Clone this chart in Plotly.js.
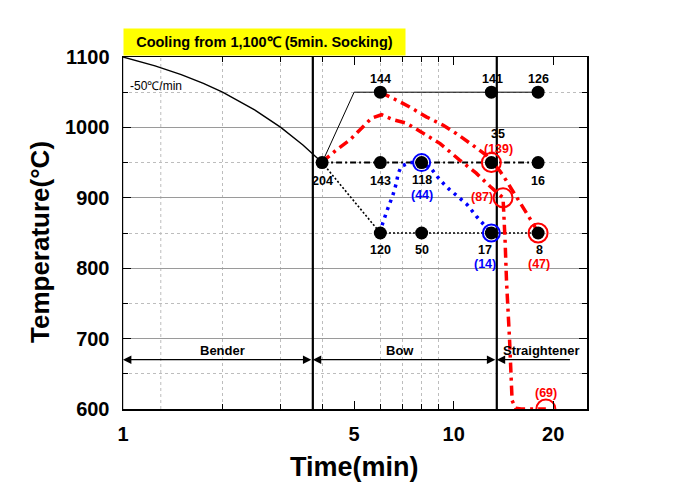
<!DOCTYPE html>
<html>
<head>
<meta charset="utf-8">
<script src="https://cdn.plot.ly/plotly-3.0.1.min.js"></script>
<style>html,body{margin:0;padding:0;background:#fff;}#chart{width:684px;height:494px;}</style>
</head>
<body>
<div id="chart"></div>
<script>
// ---------- data ----------
const coolT = [1, 1.25, 1.5, 1.75, 2, 2.5, 3, 3.5, 4];
const coolTemp = [1100, 1087.5, 1075, 1062.5, 1050, 1025, 1000, 975, 950];
const boundaryT = [3.75, 13.5];
const tempRange = [600, 1100];

const upperPathT = [4, 5, 6, 13, 18];
const upperPathTemp = [950, 1050, 1050, 1050, 1050];
const midPathT = [4, 6, 8, 13, 18];
const midPathTemp = [950, 950, 950, 950, 950];
const lowPathT = [4, 6, 8, 13, 18];
const lowPathTemp = [950, 850, 850, 850, 850];

const blueT = [6, 6.1, 6.3, 6.55, 6.7, 6.8, 6.95, 7.4, 8, 8.6, 9.1, 9.7, 10.4, 11, 11.7, 12.3, 13];
const blueTemp = [850, 864, 883, 904, 920, 935, 945, 950, 950, 940, 925, 912, 900, 890, 874, 862, 850];

const redUpperT = [6, 6.26, 6.7, 7.36, 8.26, 9.3, 10.2, 11.4, 12.5, 13, 13.8, 14.4, 15.5, 16.2, 16.9, 17.5, 18];
const redUpperTemp = [1050, 1046, 1039, 1029, 1015, 1003, 991, 975, 961, 952, 938, 925, 901, 886, 873, 861, 850];

const redLowerT = [4, 4.12, 4.42, 4.85, 5.32, 5.64, 6.05, 6.55, 7.2, 8.1, 9.1, 10.4, 11.7, 12.9, 14.1, 14.3, 14.45, 14.75, 14.9, 15.02, 15.4, 16, 19];
const redLowerTemp = [950, 956, 968, 982, 1001, 1013, 1018, 1011, 1006, 991, 977, 954, 935, 916, 900, 840, 780, 700, 650, 612, 601, 600, 600];

const dotT    = [4, 6, 6, 6, 8, 8, 13, 13, 13, 18, 18, 18];
const dotTemp = [950, 1050, 950, 850, 950, 850, 1050, 950, 850, 1050, 950, 850];
const dotCount = ['204', '144', '143', '120', '118', '50', '141', '35', '17', '126', '16', '8'];

const blueRingT = [8, 13];
const blueRingTemp = [950, 850];
const blueRingCount = ['(44)', '(14)'];

const redRingT = [13, 14.1, 18, 19];
const redRingTemp = [950, 900, 850, 600];
const redRingCount = ['(139)', '(87)', '(47)', '(69)'];

const xTickVals = [1, 5, 10, 20];
const xTickText = ['1', '5', '10', '20'];
const yTickVals = [600, 700, 800, 900, 1000, 1100];

const zoneNames = ['Bender', 'Bow', 'Straightener'];
const zoneLabelT = [2.0, 6.87, 18.4];
const zoneStartT = [1, 3.75, 13.5];
const zoneEndT = [3.75, 13.5, 22.7];

// ---------- drawing ----------
const FONT = 'Arial, "Liberation Sans", sans-serif';
const L = Math.log10;

const traces = [];
traces.push({x: coolT, y: coolTemp, mode: 'lines', line: {color: '#000', width: 1.4}});
boundaryT.forEach(t => traces.push({x: [t, t], y: tempRange, mode: 'lines', line: {color: '#000', width: 2.2}}));
traces.push({x: upperPathT, y: upperPathTemp, mode: 'lines', line: {color: '#000', width: 1}});
traces.push({x: midPathT, y: midPathTemp, mode: 'lines', line: {color: '#000', width: 2, dash: '6px,3px,2px,3px'}});
traces.push({x: lowPathT, y: lowPathTemp, mode: 'lines', line: {color: '#000', width: 1.6, dash: '2px,2px'}});
traces.push({x: blueT, y: blueTemp, mode: 'lines', line: {color: '#0000ff', width: 3.5, dash: '3px,5px'}});
traces.push({x: redUpperT, y: redUpperTemp, mode: 'lines', line: {color: '#ff0000', width: 3.5, dash: '10px,5px,3px,5px'}});
traces.push({x: redLowerT, y: redLowerTemp, mode: 'lines', line: {color: '#ff0000', width: 3.5, dash: '10px,5px,3px,5px'}});
traces.push({x: dotT, y: dotTemp, mode: 'markers', marker: {color: '#000', size: 13}});
traces.push({x: blueRingT, y: blueRingTemp, mode: 'markers', marker: {color: '#0000ff', size: 17, symbol: 'circle-open', line: {width: 2}}});
traces.push({x: redRingT, y: redRingTemp, mode: 'markers', marker: {color: '#ff0000', size: 19, symbol: 'circle-open', line: {width: 2}}});
traces.forEach(t => { t.type = 'scatter'; t.showlegend = false; t.hoverinfo = 'skip'; });

const ann = [];
const dotShift = [[0, -18], [0, 13], [0, -18], [0, -17], [0, -17], [0, -17], [1, 13], [7, 29], [-6, -17], [0, 13], [0, -18], [1, -17]];
dotCount.forEach((txt, i) => ann.push({
  x: L(dotT[i]), y: dotTemp[i], xref: 'x', yref: 'y', text: txt, showarrow: false,
  xshift: dotShift[i][0], yshift: dotShift[i][1],
  font: {family: FONT, size: 12.5, color: '#000', weight: 'bold'}
}));
const blueShift = [[0, -32], [-6, -31]];
blueRingCount.forEach((txt, i) => ann.push({
  x: L(blueRingT[i]), y: blueRingTemp[i], xref: 'x', yref: 'y', text: txt, showarrow: false,
  xshift: blueShift[i][0], yshift: blueShift[i][1],
  font: {family: FONT, size: 12.5, color: '#0000ff', weight: 'bold'}
}));
const redShift = [[7, 14], [-21, 1], [1, -31], [0, 16]];
redRingCount.forEach((txt, i) => ann.push({
  x: L(redRingT[i]), y: redRingTemp[i], xref: 'x', yref: 'y', text: txt, showarrow: false,
  xshift: redShift[i][0], yshift: redShift[i][1],
  font: {family: FONT, size: 12.5, color: '#ff0000', weight: 'bold'}
}));
zoneNames.forEach((name, i) => {
  ann.push({x: L(zoneLabelT[i]), y: 683, xref: 'x', yref: 'y', text: name, showarrow: false,
    font: {family: FONT, size: 13, color: '#000', weight: 'bold'}});
  ann.push({x: L(zoneStartT[i]), y: 670, ax: L(zoneEndT[i]), ay: 670, xref: 'x', yref: 'y', axref: 'x', ayref: 'y',
    text: '', showarrow: true, arrowhead: 2, arrowsize: 1.4, arrowwidth: 1.2, arrowcolor: '#000',
    arrowside: i < 2 ? 'end+start' : 'end', standoff: 0, startstandoff: 0});
});
ann.push({x: 0, y: 1059, xref: 'x', yref: 'y', text: '-50\u2103/min', showarrow: false, xanchor: 'left', xshift: 5,
  font: {family: FONT, size: 12, color: '#000'}});
ann.push({x: 0, y: 1, xref: 'paper', yref: 'paper', xanchor: 'left', yanchor: 'bottom', yshift: 1,
  text: 'Cooling from 1,100\u2103 (5min. Socking)', showarrow: false, bgcolor: '#ffff00',
  width: 275, height: 20, borderpad: 3, align: 'center',
  font: {family: FONT, size: 14.5, color: '#000', weight: 'bold'}});
ann.push({x: 0, y: 0.5, xref: 'paper', yref: 'paper', xanchor: 'center', yanchor: 'middle', xshift: -83, yshift: -9,
  textangle: -90, text: 'Temperature(\u00B0C)', showarrow: false,
  font: {family: FONT, size: 26, color: '#000', weight: 'bold'}});
ann.push({x: 0.5, y: 0, xref: 'paper', yref: 'paper', xanchor: 'center', yanchor: 'middle', xshift: -1, yshift: -58,
  text: 'Time(min)', showarrow: false,
  font: {family: FONT, size: 27, color: '#000', weight: 'bold'}});

const shapes = [
  {type: 'line', xref: 'x', yref: 'paper', x0: 1, x1: 1, y0: 0, y1: 1, line: {color: '#9a9a9a', width: 1}, layer: 'below'},
  {type: 'line', xref: 'x', yref: 'paper', x0: L(5), x1: L(5), y0: 0, y1: 1, line: {color: '#bdbdbd', width: 1, dash: 'dot'}, layer: 'below'},
  {type: 'line', xref: 'x', yref: 'paper', x0: L(20), x1: L(20), y0: 0, y1: 1, line: {color: '#bdbdbd', width: 1, dash: 'dot'}, layer: 'below'}
];

const layout = {
  width: 684, height: 494,
  margin: {l: 123, r: 97, t: 57, b: 85},
  paper_bgcolor: '#fff', plot_bgcolor: '#fff',
  showlegend: false,
  font: {family: FONT},
  xaxis: {
    type: 'log', range: [0, L(25.3)],
    tickmode: 'array', tickvals: xTickVals, ticktext: xTickText,
    ticks: 'inside', ticklen: 8, tickwidth: 1, tickcolor: '#000',
    showgrid: false, zeroline: false,
    showline: true, linecolor: '#000', linewidth: 1.5, mirror: 'allticks',
    tickfont: {family: FONT, size: 20, color: '#000', weight: 'bold'},
    ticklabelstandoff: 6,
    minor: {tickmode: 'array', tickvals: [2, 3, 4, 6, 7, 8, 9], ticks: 'inside', ticklen: 5, tickcolor: '#000',
      showgrid: true, gridcolor: '#bdbdbd', griddash: 'dot', gridwidth: 1}
  },
  yaxis: {
    range: tempRange,
    tickmode: 'array', tickvals: yTickVals,
    ticks: 'inside', ticklen: 8, tickwidth: 1, tickcolor: '#000',
    showgrid: true, gridcolor: '#9a9a9a', gridwidth: 1, zeroline: false,
    showline: true, linecolor: '#000', linewidth: 1.5, mirror: 'allticks',
    tickfont: {family: FONT, size: 20, color: '#000', weight: 'bold'},
    ticklabelstandoff: 8,
    minor: {dtick: 50, ticks: 'inside', ticklen: 5, tickcolor: '#000',
      showgrid: true, gridcolor: '#bdbdbd', griddash: 'dot', gridwidth: 1}
  },
  annotations: ann,
  shapes: shapes
};

Plotly.newPlot('chart', traces, layout, {displayModeBar: false, staticPlot: true});
</script>
</body>
</html>
